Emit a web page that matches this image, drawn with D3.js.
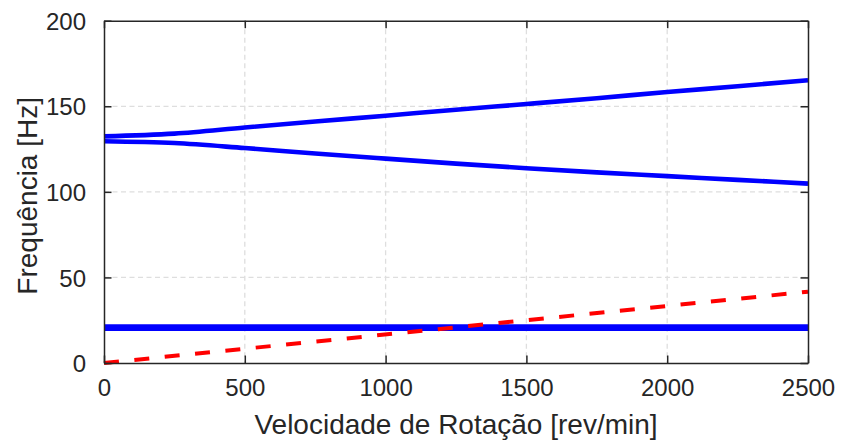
<!DOCTYPE html>
<html>
<head>
<meta charset="utf-8">
<script src="https://cdn.jsdelivr.net/npm/d3@7"></script>
<style>
  body { margin: 0; background: #fff; }
  text { font-family: "Liberation Sans", Arial, sans-serif; fill: #262626; }
</style>
</head>
<body>
<div id="chart"></div>
<script>
// rotation speed samples [rev/min]
var rpm = [0, 250, 500, 750, 1000, 1250, 1500, 1750, 2000, 2250, 2500];
// natural frequencies [Hz]
var modeUpper = [132.4, 134.0, 137.6, 141.1, 144.5, 148.0, 151.3, 154.7, 158.3, 161.7, 165.2];
var modeLower = [129.6, 128.5, 125.6, 122.4, 119.4, 116.5, 113.8, 111.4, 109.2, 107.0, 104.8];
var modeLowA  = [20.0, 20.0, 20.0, 20.0, 20.0, 20.0, 20.0, 20.0, 20.0, 20.0, 20.0];
var modeLowB  = [21.3, 21.3, 21.3, 21.3, 21.3, 21.3, 21.3, 21.3, 21.3, 21.3, 21.3];
// 1x excitation line
var excRpm = [0, 2500];
var excHz  = [0, 41.67];

var xTicks = [0, 500, 1000, 1500, 2000, 2500];
var yTicks = [0, 50, 100, 150, 200];

var cfg = {
    width: 842,
    height: 444,
    margin: {top: 20.7, right: 34, bottom: 81, left: 104}
};
var w = cfg.width - cfg.margin.left - cfg.margin.right,
    h = cfg.height - cfg.margin.top - cfg.margin.bottom;

var x = d3.scaleLinear().domain([0, 2500]).range([0, w]),
    y = d3.scaleLinear().domain([0, 200]).range([h, 0]);

var svg = d3.select("#chart").append("svg")
    .attr("width", cfg.width)
    .attr("height", cfg.height);

var g = svg.append("g")
    .attr("transform", "translate(" + cfg.margin.left + "," + cfg.margin.top + ")");

// grid
g.append("g").selectAll("line")
    .data(xTicks.slice(1, -1))
    .enter().append("line")
    .attr("x1", function(d) { return x(d); })
    .attr("x2", function(d) { return x(d); })
    .attr("y1", 0).attr("y2", h)
    .attr("stroke", "#dedede").attr("stroke-width", 1.3)
    .attr("stroke-dasharray", "5,3.5");

g.append("g").selectAll("line")
    .data(yTicks.slice(1, -1))
    .enter().append("line")
    .attr("y1", function(d) { return y(d); })
    .attr("y2", function(d) { return y(d); })
    .attr("x1", 0).attr("x2", w)
    .attr("stroke", "#dedede").attr("stroke-width", 1.3)
    .attr("stroke-dasharray", "5,3.5");

var line = d3.line()
    .x(function(d) { return x(d[0]); })
    .y(function(d) { return y(d[1]); });

function pairs(xs, ys) { return xs.map(function(v, i) { return [v, ys[i]]; }); }

// modes
[modeUpper, modeLower, modeLowA, modeLowB].forEach(function(s) {
    g.append("path")
        .datum(pairs(rpm, s))
        .attr("d", line.curve(d3.curveMonotoneX))
        .attr("fill", "none")
        .attr("stroke", "#0000ff")
        .attr("stroke-width", 4.6);
});

// excitation
g.append("path")
    .datum(pairs(excRpm, excHz))
    .attr("d", line.curve(d3.curveLinear))
    .attr("fill", "none")
    .attr("stroke", "#ff0000")
    .attr("stroke-width", 4)
    .attr("stroke-dasharray", "15,15.5");

// axes (ticks inside, box on)
var fmt = d3.format("d");
var xAxis = d3.axisBottom(x).tickValues(xTicks).tickFormat(fmt).tickSizeInner(-7.5).tickSizeOuter(0).tickPadding(16);
var yAxis = d3.axisLeft(y).tickValues(yTicks).tickFormat(fmt).tickSizeInner(-7.5).tickSizeOuter(0).tickPadding(18);

var gx = g.append("g").attr("transform", "translate(0," + h + ")").call(xAxis);
var gy = g.append("g").call(yAxis);
var gxTop = g.append("g").call(d3.axisTop(x).tickValues(xTicks).tickSizeInner(-7.5).tickSizeOuter(0).tickFormat(""));
var gyRight = g.append("g").attr("transform", "translate(" + w + ",0)")
    .call(d3.axisRight(y).tickValues(yTicks).tickSizeInner(-7.5).tickSizeOuter(0).tickFormat(""));

[gx, gy, gxTop, gyRight].forEach(function(a) {
    a.select(".domain").attr("stroke", "#262626").attr("stroke-width", 1.5);
    a.selectAll(".tick line").attr("stroke", "#262626").attr("stroke-width", 1.5);
    a.selectAll("text").style("font-size", "24px").attr("fill", "#262626");
});
gx.selectAll("text").attr("dy", "0.71em");
gy.selectAll("text").attr("dy", "0.36em");

// labels
svg.append("text")
    .attr("x", cfg.margin.left + w / 2)
    .attr("y", 434)
    .attr("text-anchor", "middle")
    .style("font-size", "28px")
    .text("Velocidade de Rotação [rev/min]");

svg.append("text")
    .attr("transform", "translate(37," + (cfg.margin.top + h / 2 + 4) + ") rotate(-90)")
    .attr("text-anchor", "middle")
    .style("font-size", "28px")
    .text("Frequência [Hz]");
</script>
</body>
</html>
